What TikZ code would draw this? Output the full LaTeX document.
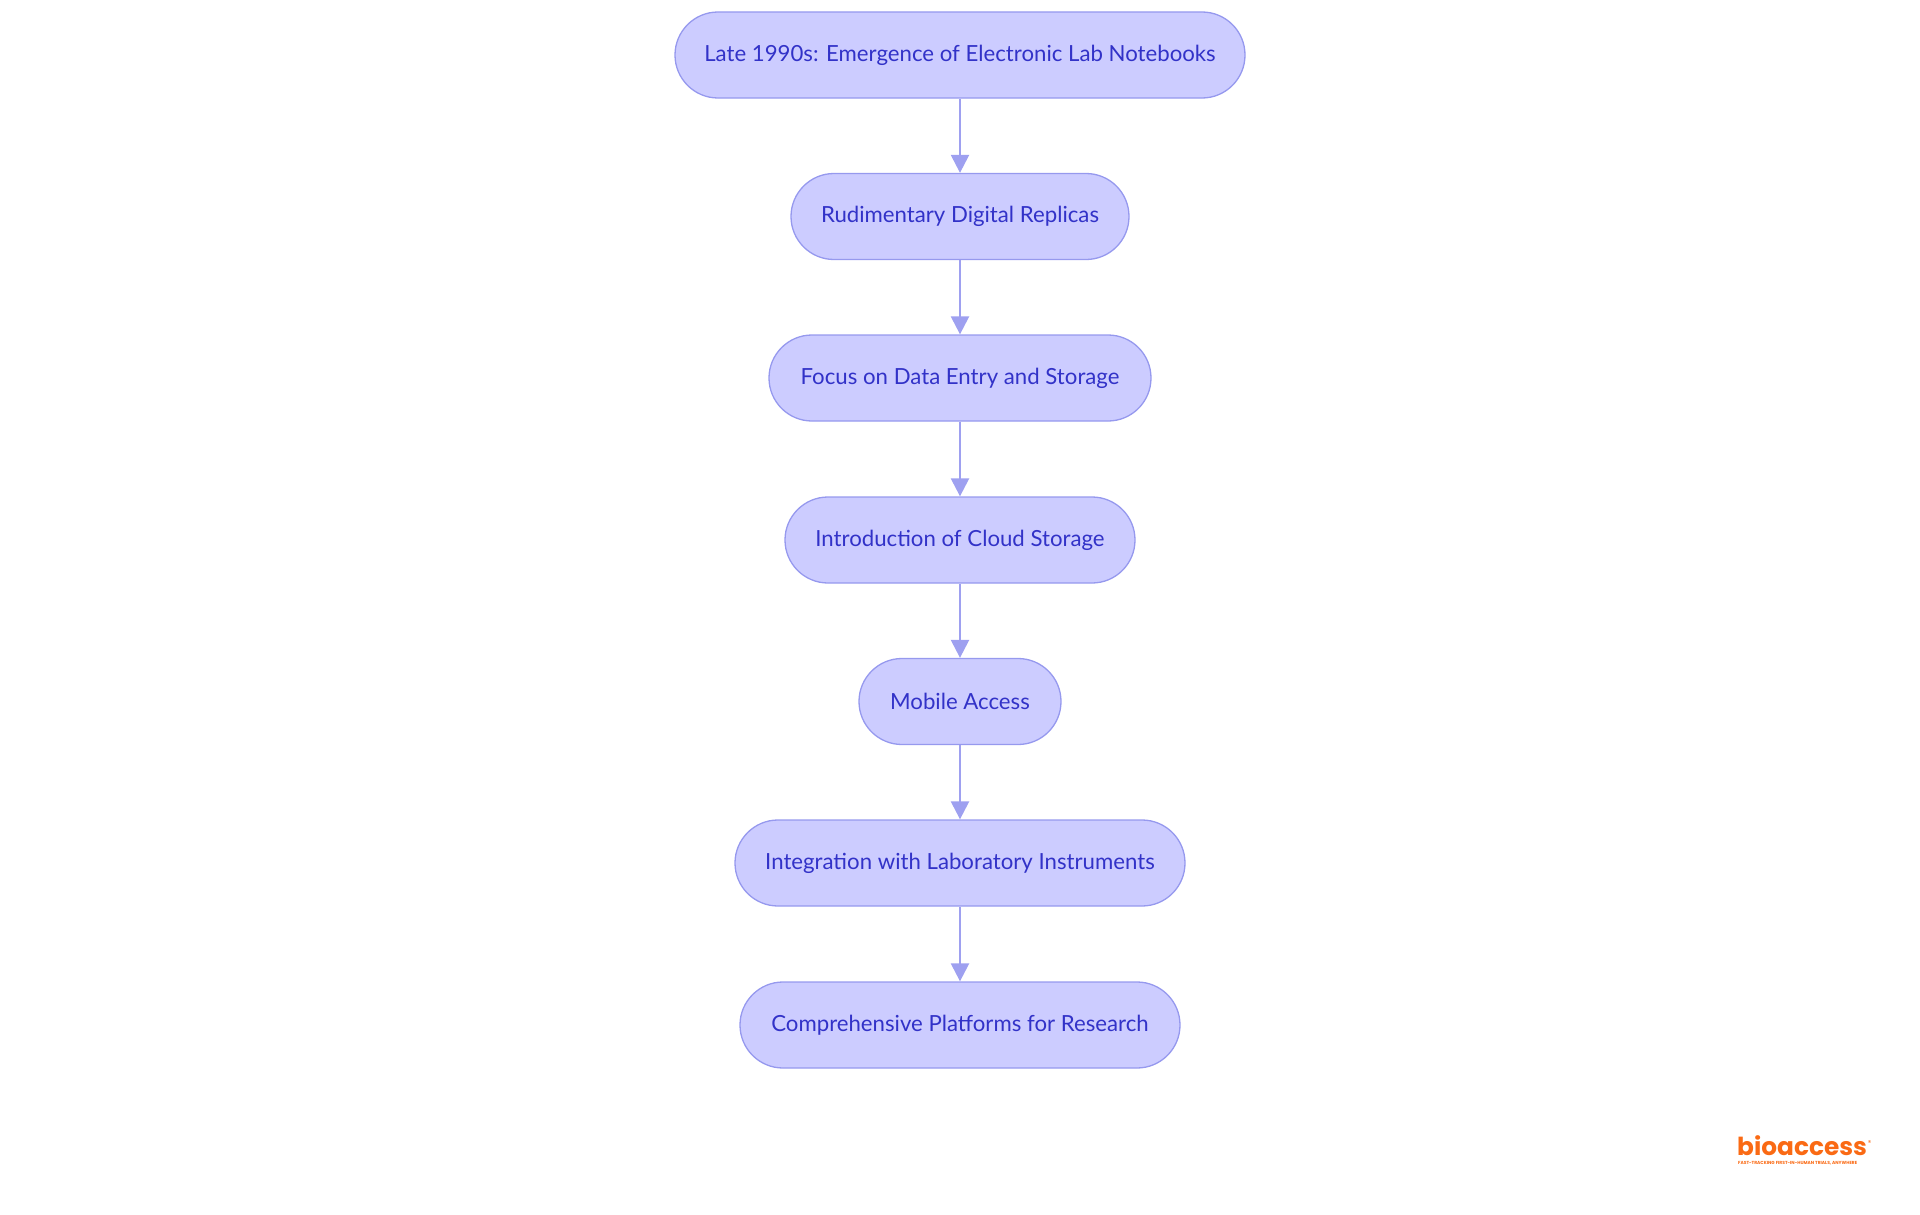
\documentclass[tikz,border=0pt]{standalone}
\usepackage{fontspec}
\setmainfont{Lato}
\newfontfamily\logofont{Poppins}
\usetikzlibrary{arrows.meta}
\definecolor{nodefill}{RGB}{204,204,255}
\definecolor{nodedraw}{RGB}{150,153,238}
\definecolor{nodetext}{RGB}{50,50,200}
\definecolor{linkcol}{RGB}{158,160,240}
\definecolor{logoorange}{RGB}{250,106,20}
\begin{document}
\begin{tikzpicture}[x=1pt,y=-1pt,
  stage/.style={draw=nodedraw,fill=nodefill,line width=1.3pt,rounded corners=43pt,
    minimum height=86pt,inner sep=0pt,text=nodetext,font=\fontsize{22.2}{26}\selectfont},
  link/.style={draw=linkcol,line width=2.4pt,-{Triangle[width=18pt,length=18pt]}}]
\useasboundingbox (0,0) rectangle (1920,1215);
\node[stage,minimum width=570pt] (n1) at (960,55) {Late 1990s: Emergence of Electronic Lab Notebooks};
\node[stage,minimum width=338pt] (n2) at (960,216.5) {Rudimentary Digital Replicas};
\node[stage,minimum width=382pt] (n3) at (960,378) {Focus on Data Entry and Storage};
\node[stage,minimum width=350pt] (n4) at (960,540) {Introduction of Cloud Storage};
\node[stage,minimum width=202pt] (n5) at (960,701.5) {Mobile Access};
\node[stage,minimum width=450pt] (n6) at (960,863) {Integration with Laboratory Instruments};
\node[stage,minimum width=440pt] (n7) at (960,1025) {Comprehensive Platforms for Research};
\draw[link] (n1) -- (n2);
\draw[link] (n2) -- (n3);
\draw[link] (n3) -- (n4);
\draw[link] (n4) -- (n5);
\draw[link] (n5) -- (n6);
\draw[link] (n6) -- (n7);
\node[anchor=base west,inner sep=0pt,text=logoorange,font=\logofont\bfseries\fontsize{24.8}{25}\selectfont] (logo) at (1737,1155) {bioaccess};
\node[anchor=north west,inner sep=0pt,text=logoorange,font=\logofont\fontsize{7}{7}\selectfont] (reg) at ([xshift=0.5pt,yshift=-5pt]logo.north east) {®};
\node[anchor=north west,inner sep=0pt,text=logoorange,font=\logofont\bfseries\fontsize{4.4}{5}\selectfont] (tag) at (1738,1161) {FAST-TRACKING FIRST-IN-HUMAN TRIALS, ANYWHERE};
\end{tikzpicture}
\end{document}
